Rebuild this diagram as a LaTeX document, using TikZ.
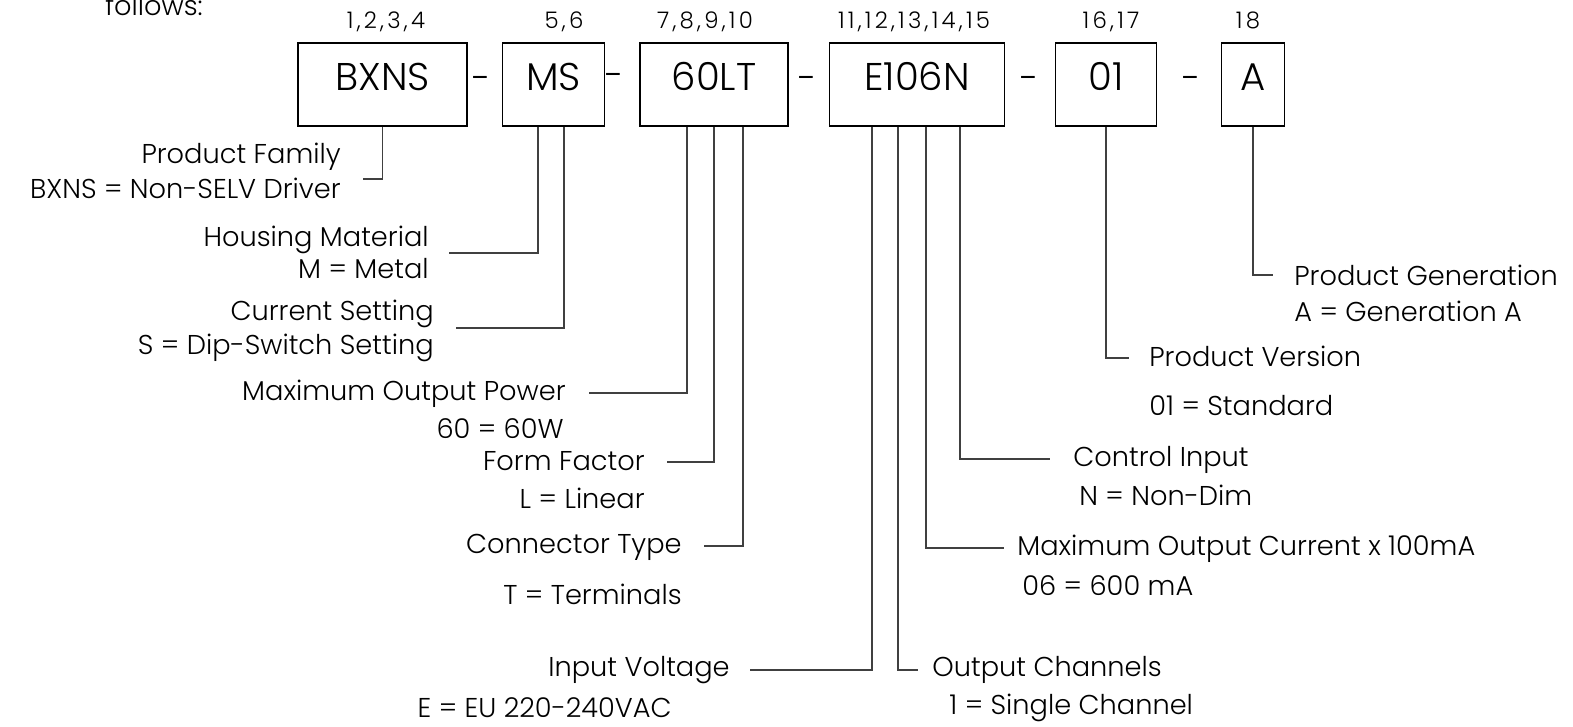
\documentclass[tikz,border=0pt]{standalone}
\usepackage{fontspec}
\setmainfont{Poppins Light}
\tikzset{
  codebox/.style={draw, line width=1.1pt, minimum height=1.66cm, inner sep=0pt,
    font=\fontsize{22}{26}\selectfont, text height=0.7em, text depth=0pt},
  hyph/.style={inner sep=0pt, anchor=mid, font=\fontsize{20}{24}\selectfont},
  digits/.style={inner sep=0pt, font=\fontsize{13}{15}\selectfont\addfontfeatures{LetterSpace=14},
    text height=0.7em, text depth=0pt},
  desc/.style={inner sep=0pt, font=\fontsize{15.5}{18}\selectfont, text height=0.7em, text depth=0pt},
  lead/.style={draw=black!75, line width=0.6pt},
}
\begin{document}
\begin{tikzpicture}[x=0.02cm, y=-0.02cm]
    \useasboundingbox (0,0) rectangle (1573,727);
    \node[desc, text height=, anchor=base west] (intro) at (105,15) {follows:};
    % code boxes
    \node[codebox, minimum width=3.38cm] (bxns) at (382.5,84.5) {BXNS};
    \node[codebox, minimum width=2.04cm] (ms) at (553.5,84.5) {MS};
    \node[codebox, minimum width=2.96cm] (lt) at (714,84.5) {60LT};
    \node[codebox, minimum width=3.50cm] (e) at (917,84.5) {E106N};
    \node[codebox, minimum width=2.02cm] (v) at (1106,84.5) {01};
    \node[codebox, minimum width=1.26cm] (a) at (1253,84.5) {A};
    \node[hyph] (h1) at (482,86) {-};
    \node[hyph] (h2) at (615,83) {-};
    \node[hyph] (h3) at (808,86) {-};
    \node[hyph] (h4) at (1030,86) {-};
    \node[hyph] (h5) at (1192,86) {-};
    % character positions
    \node[digits] (n1) at (386,22) {1,2,3,4};
    \node[digits] (n2) at (564,22) {5,6};
    \node[digits] (n3) at (705,22) {7,8,9,10};
    \node[digits] (n4) at (914,22) {11,12,13,14,15};
    \node[digits] (n5) at (1111,22) {16,17};
    \node[digits] (n6) at (1248,22) {18};
    % descriptions, left side
    \node[desc, anchor=east] (pf) at (341,157) {Product Family};
    \node[desc, anchor=east] (pf2) at (341,192) {BXNS = Non-SELV Driver};
    \node[desc, anchor=east] (hm) at (429,240) {Housing Material};
    \node[desc, anchor=east] (hm2) at (429,272) {M = Metal};
    \node[desc, anchor=east] (cs) at (434,314) {Current Setting};
    \node[desc, anchor=east] (cs2) at (434,348) {S = Dip-Switch Setting};
    \node[desc, anchor=east] (mop) at (566,394) {Maximum Output Power};
    \node[desc, anchor=east] (mop2) at (564,432) {60 = 60W};
    \node[desc, anchor=east] (ff) at (645,464) {Form Factor};
    \node[desc, anchor=east] (ff2) at (645,502) {L = Linear};
    \node[desc, anchor=east] (ct) at (682,547) {Connector Type};
    \node[desc, anchor=east] (ct2) at (682,598) {T = Terminals};
    \node[desc, anchor=east] (iv) at (730,670) {Input Voltage};
    \node[desc, anchor=east] (iv2) at (672,711) {E = EU 220-240VAC};
    % descriptions, right side
    \node[desc, anchor=west] (oc) at (932,670) {Output Channels};
    \node[desc, anchor=west] (oc2) at (949,708) {1 = Single Channel};
    \node[desc, anchor=west] (moc) at (1017,549) {Maximum Output Current x 100mA};
    \node[desc, anchor=west] (moc2) at (1022,589) {06 = 600 mA};
    \node[desc, anchor=west] (ci) at (1073,460) {Control Input};
    \node[desc, anchor=west] (ci2) at (1079,499) {N = Non-Dim};
    \node[desc, anchor=west] (pv) at (1149,360) {Product Version};
    \node[desc, anchor=west] (pv2) at (1149,409) {01 = Standard};
    \node[desc, anchor=west] (pg) at (1294,279) {Product Generation};
    \node[desc, anchor=west] (pg2) at (1294,315) {A = Generation A};
    % leader ends
    \coordinate (pf-end) at (363,179);
    \coordinate (hm-end) at (449,253);
    \coordinate (cs-end) at (456,328);
    \coordinate (mop-end) at (589,393);
    \coordinate (ff-end) at (667,462);
    \coordinate (ct-end) at (704,546);
    \coordinate (iv-end) at (750,670);
    \coordinate (oc-end) at (918,670);
    \coordinate (moc-end) at (1004,548);
    \coordinate (ci-end) at (1050,459);
    \coordinate (pv-end) at (1129,358);
    \coordinate (pg-end) at (1273,275);
    % leaders
    \draw[lead] (bxns.south) |- (pf-end);
    \draw[lead] (ms.south -| 538,0) |- (hm-end);
    \draw[lead] (ms.south -| 564,0) |- (cs-end);
    \draw[lead] (lt.south -| 687,0) |- (mop-end);
    \draw[lead] (lt.south -| 714,0) |- (ff-end);
    \draw[lead] (lt.south -| 743,0) |- (ct-end);
    \draw[lead] (e.south -| 872,0) |- (iv-end);
    \draw[lead] (e.south -| 898,0) |- (oc-end);
    \draw[lead] (e.south -| 926,0) |- (moc-end);
    \draw[lead] (e.south -| 960,0) |- (ci-end);
    \draw[lead] (v.south) |- (pv-end);
    \draw[lead] (a.south) |- (pg-end);
\end{tikzpicture}
\end{document}
